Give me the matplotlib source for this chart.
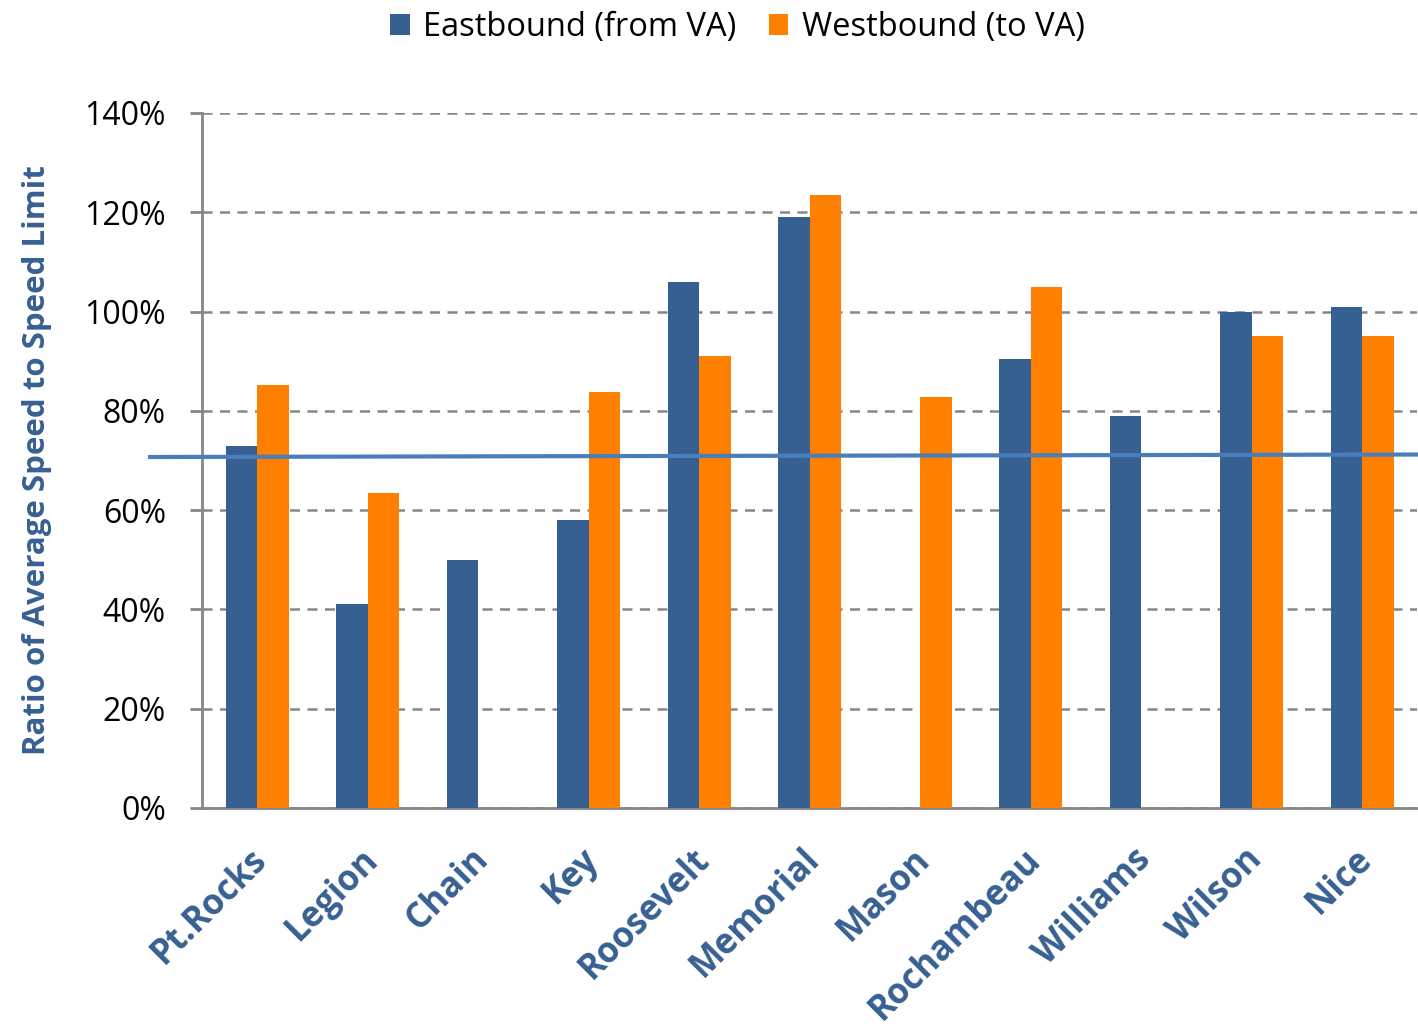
import numpy as np
import matplotlib
matplotlib.use('Agg')
import matplotlib.pyplot as plt
from matplotlib.ticker import PercentFormatter

# ratio of average speed to posted limit, per crossing
crossings = ["Pt.Rocks", "Legion", "Chain", "Key", "Roosevelt", "Memorial",
             "Mason", "Rochambeau", "Williams", "Wilson", "Nice"]
eastbound = [0.73, 0.41, 0.50, 0.58, 1.06, 1.19, np.nan, 0.905, 0.79, 1.00, 1.01]
westbound = [0.853, 0.635, np.nan, 0.837, 0.91, 1.235, 0.828, 1.05, np.nan, 0.95, 0.95]
series_names = ["Eastbound (from VA)", "Westbound (to VA)"]
# overall trend, left and right ends
trend_ends = [0.707, 0.712]

BLUE = '#376092'
ORANGE = '#ff8000'
TREND = '#4a7ebb'
GREY = '#868686'

plt.rcParams['font.family'] = ['Open Sans', 'DejaVu Sans']

fig = plt.figure(figsize=(14.18, 10.29), dpi=100)
ax = fig.add_axes([0.1425, 0.2148, 0.857, 0.6754])

x = np.arange(len(crossings))
barwidth = 0.285
ax.bar(x - barwidth / 2, eastbound, barwidth, color=BLUE, label=series_names[0], zorder=3)
ax.bar(x + barwidth / 2, westbound, barwidth, color=ORANGE, label=series_names[1], zorder=3)

ax.plot([-0.97, len(crossings) - 0.5], trend_ends, color=TREND, lw=3,
        clip_on=False, zorder=4)

ax.set_xlim(-0.5, len(crossings) - 0.5)
ax.set_ylim(0, 1.4)
ax.set_yticks(np.arange(0, 1.41, 0.2))
ax.yaxis.set_major_formatter(PercentFormatter(1.0, decimals=0))
ax.tick_params(axis='y', labelsize=23, length=9, width=2, color=GREY, pad=17)
ax.tick_params(axis='x', length=0, pad=24)

ax.set_xticks(x - 0.07)
ax.set_xticklabels(crossings, rotation=45, ha='right', rotation_mode='anchor',
                   fontsize=25, fontweight='bold', color=BLUE)

ax.set_ylabel('Ratio of Average Speed to Speed Limit', fontsize=22.5,
              fontweight='bold', color=BLUE, labelpad=23)

ax.grid(axis='y', color=GREY, ls=(0, (4, 3)), lw=1.8, zorder=0)
ax.set_axisbelow(True)
for side in ['top', 'right']:
    ax.spines[side].set_visible(False)
for side in ['left', 'bottom']:
    ax.spines[side].set_color(GREY)
    ax.spines[side].set_linewidth(2)

fig.legend(loc='upper center', bbox_to_anchor=(0.52, 1.018), ncol=2, frameon=False,
           fontsize=23.5, handlelength=0.6, handleheight=0.6, handletextpad=0.4,
           columnspacing=1.0)

fig.savefig('out.png', dpi=100)
